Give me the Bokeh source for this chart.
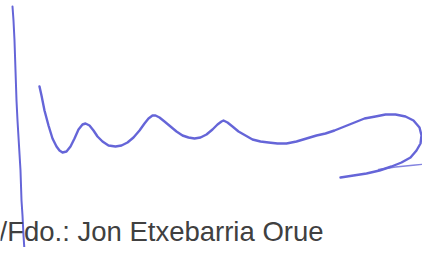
from bokeh.plotting import figure
from bokeh.models import Range1d
from bokeh.embed import file_html
from bokeh.resources import INLINE
from bokeh.core.properties import value

# Signature strokes (picture pixel coordinates)
stem_x = [12, 13, 14, 15, 16, 17, 18.5, 20, 21, 22, 23, 24, 24.5]
stem_y = [6, 20, 40, 70, 100, 120, 145, 170, 200, 215, 235, 250, 262]

wave_x = [39, 41, 44, 48, 52, 56, 59, 62, 66, 70, 74, 78, 82, 85, 89, 93, 97,
          102, 108, 115, 121, 127, 133, 139, 144, 148, 152, 155, 159, 164, 170,
          176, 182, 188, 194, 200, 206, 212, 217, 221, 223, 227, 232, 238, 245,
          252, 260, 268, 277, 286, 296, 306, 316, 325, 334, 344, 354, 364, 375,
          385, 395, 405, 413, 419, 421, 420, 416, 410, 401, 391, 379, 366, 353, 340]
wave_y = [86, 95, 110, 125, 138, 146, 150, 152, 151, 146, 138, 129, 124, 123,
          125, 130, 136, 141, 145, 146, 145, 142, 137, 130, 123, 118, 115, 115,
          117, 121, 126, 131, 135, 137, 138, 137, 134, 129, 124, 121, 120, 122,
          126, 131, 135, 139, 141, 142, 143, 143, 141, 138, 135, 133, 130, 126,
          122, 118, 116, 114, 114, 116, 120, 127, 135, 143, 150, 157, 162, 166,
          170, 173, 175, 177]

tail_x = [378, 395, 415, 437]
tail_y = [169, 166.5, 164.5, 162.5]

caption = "/Fdo.: Jon Etxebarria Orue"
caption_x = [-1]
caption_y = [230.5]

W, H = 422, 247
p = figure(width=W, height=H, output_backend="svg", toolbar_location=None,
           x_range=Range1d(0, W), y_range=Range1d(H, 0),
           min_border=0, outline_line_color=None)
p.axis.visible = False
p.grid.visible = False
p.background_fill_color = "white"
p.border_fill_color = "white"

ink = "#6565d8"
p.line(stem_x, stem_y, line_color=ink, line_width=2.0, line_cap="round", line_join="round")
p.line(wave_x, wave_y, line_color=ink, line_width=2.4, line_cap="round", line_join="round")
p.line(tail_x, tail_y, line_color=ink, line_width=1.3, line_alpha=0.8, line_cap="round")

p.text(x=caption_x, y=caption_y, text=[caption], text_font=value("Liberation Sans"),
       text_font_size="27.5px", text_color="#404040", text_baseline="alphabetic",
       text_align="left")

open("out.html", "w").write(file_html(p, INLINE))
